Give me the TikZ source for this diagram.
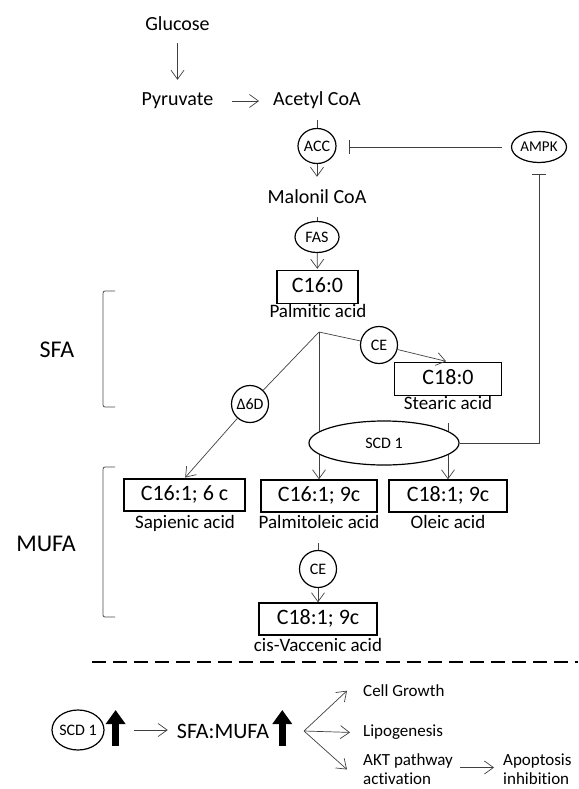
\documentclass[tikz,border=0pt]{standalone}
\usepackage{fontspec}
\setmainfont[Ligatures=NoCommon]{Carlito}
\usetikzlibrary{shapes,arrows.meta}
\tikzset{
  met/.style={inner sep=0pt, font=\fontsize{20}{24}\selectfont, text height=14pt, text depth=4pt},
  lab/.style={inner sep=0pt, font=\fontsize{19}{22}\selectfont, text height=13pt, text depth=4pt},
  fa/.style={draw, line width=1.4pt, inner sep=0pt, minimum height=33pt, font=\fontsize{22}{26}\selectfont, text height=15pt, text depth=4pt},
  enz/.style={draw, ellipse, line width=1.2pt, inner sep=0pt, font=\fontsize{16}{19}\selectfont},
  cls/.style={inner sep=0pt, font=\fontsize{24}{28}\selectfont, text height=16pt, text depth=5pt},
  sum/.style={inner sep=0pt, font=\fontsize{22}{26}\selectfont, text height=15pt, text depth=5pt},
  eff/.style={inner sep=0pt, anchor=west, align=left, font=\fontsize{17}{19}\selectfont},
  ln/.style={draw=black!75, line width=0.7pt},
  arr/.style={ln, -{Straight Barb[length=9pt,width=13pt]}},
  inh/.style={ln, -{Bar[width=14pt]}},
  bigup/.style={line width=7pt, -{Triangle[length=14pt,width=19pt]}},
  brack/.style={draw=black!70, line width=0.8pt, rounded corners=2pt}
}
\begin{document}
\begin{tikzpicture}[x=1pt,y=-1pt]
\useasboundingbox (0,0) rectangle (578,789);
\node[met] (glucose) at (177.5,26) {Glucose};
\node[met] (pyruvate) at (177.5,101) {Pyruvate};
\node[met] (acetyl) at (317,101) {Acetyl CoA};
\node[enz, minimum width=38pt, minimum height=35pt] (acc) at (317,146) {ACC};
\node[met] (malonil) at (317,198) {Malonil CoA};
\node[enz, minimum width=44pt, minimum height=31pt] (fas) at (317,237) {FAS};
\node[enz, minimum width=55pt, minimum height=31pt, font=\fontsize{15}{18}\selectfont] (ampk) at (539,147) {AMPK};
\node[fa, minimum width=81pt] (c160) at (317.5,287) {C16:0};
\node[lab] (palmitic) at (318,312.5) {Palmitic acid};
\coordinate (split) at (319,332);
\node[enz, minimum size=37pt] (ce1) at (379,345) {CE};
\node[fa, minimum width=107pt] (c180) at (448,379) {C18:0};
\node[lab] (stearic) at (448,404.5) {Stearic acid};
\node[enz, minimum size=37pt, inner sep=-3pt] (d6d) at (250,404) {Δ6D};
\node[fa, minimum width=121pt, minimum height=32pt] (c161a) at (184.5,495) {C16:1; 6 c};
\node[fa, minimum width=116pt, minimum height=32pt] (c161b) at (319,496) {C16:1; 9c};
\node[fa, minimum width=118pt, minimum height=32pt] (c181a) at (448,496) {C18:1; 9c};
\node[lab] (sapienic) at (185,523.5) {Sapienic acid};
\node[lab] (palmitoleic) at (319,523.5) {Palmitoleic acid};
\node[lab] (oleic) at (448,523.5) {Oleic acid};
\node[enz, minimum size=37pt] (ce2) at (318,569) {CE};
\node[fa, minimum width=118pt, minimum height=32pt] (c181b) at (318,619) {C18:1; 9c};
\node[lab] (vaccenic) at (318,646.5) {cis-Vaccenic acid};
\node[cls] (sfa) at (57,352) {SFA};
\node[cls] (mufa) at (46,546) {MUFA};

\draw[arr, shorten <=8pt, shorten >=12pt] (glucose) -- (pyruvate);
\draw[arr, shorten <=19pt, shorten >=14pt] (pyruvate) -- (acetyl);
\draw[ln, shorten <=10pt] (acetyl) -- (acc);
\draw[arr, shorten >=12pt] (acc) -- (malonil);
\draw[ln, shorten <=10pt] (malonil) -- (fas);
\draw[arr, shorten >=1pt] (fas) -- (c160);
\draw[inh, shorten <=9pt, shorten >=12pt] (ampk.west) -- (ampk.west -| acc.east);
\draw[ln] (split) -- (ce1);
\draw[arr, shorten >=2pt] (ce1) -- (c180.north);
\draw[ln] (split) -- (d6d);
\draw[arr, shorten >=1pt] (d6d) -- (c161a.north);
\draw[arr] (split) -- (c161b.north);
\draw[arr, shorten <=10pt] (stearic.south) -- (c181a.north);
\node[enz, fill=white, minimum width=150pt, minimum height=44pt] (scd) at (384,443) {SCD 1};
\draw[inh, shorten >=11pt] (scd.east) -| (ampk.south);
\draw[ln, shorten <=11pt] (palmitoleic) -- (ce2);
\draw[arr] (ce2) -- (c181b);

\draw[brack] (115,291) -- (103,291) -- (103,407) -- (115,407);
\draw[brack] (115,467) -- (103,467) -- (103,617) -- (115,617);
\draw[line width=1.6pt, dash pattern=on 14pt off 7pt] (92,662) -- (578,662);

\node[enz, minimum width=52pt, minimum height=40pt, inner sep=-1pt] (scdb) at (78,730) {SCD 1};
\node[sum] (ratio) at (223,733) {SFA:MUFA};
\draw[bigup] ([shift={(11,16)}]scdb.east) -- ++(0,-36);
\draw[bigup] ([shift={(13,13)}]ratio.east) -- ++(0,-36);
\draw[arr, shorten <=29pt, shorten >=9pt] (scdb.east) -- (scdb.east -| ratio.west);
\coordinate (fork) at (304,731);
\node[eff] (growth) at (363,690.7) {Cell Growth};
\node[eff] (lipo) at (363,732.4) {Lipogenesis};
\node[eff] (akt) at (363,769.5) {AKT pathway\\activation};
\node[eff] (apop) at (503,769.5) {Apoptosis\\inhibition};
\draw[arr] (fork) -- ([xshift=-16pt]growth.west);
\draw[arr] (fork) -- ([xshift=-13pt]lipo.west);
\draw[arr] (fork) -- ([xshift=-16pt]akt.west);
\draw[arr, shorten <=7pt, shorten >=9pt] ([yshift=2pt]akt.east) -- ([yshift=2pt]apop.west);
\end{tikzpicture}
\end{document}
